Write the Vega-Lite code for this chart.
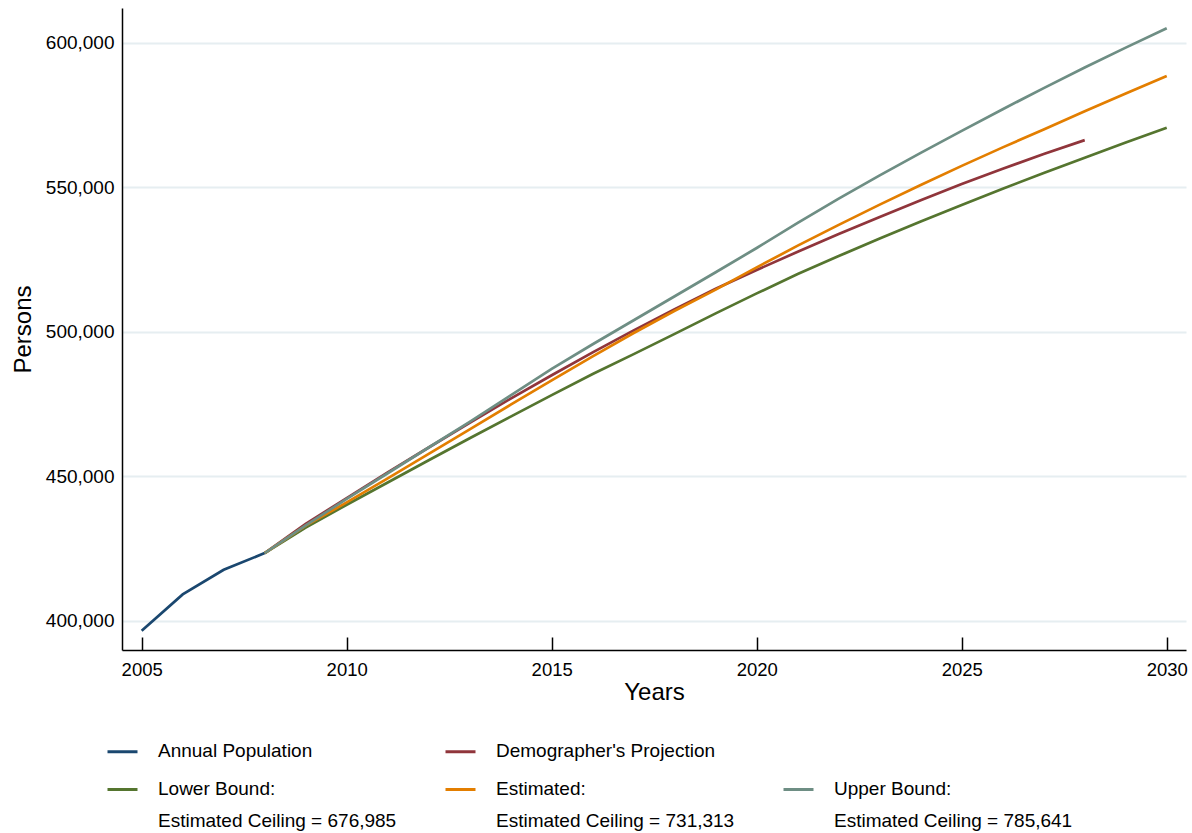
{
  "$schema": "https://vega.github.io/schema/vega-lite/v6.json",
  "width": 1064,
  "height": 642,
  "autosize": "none",
  "padding": {"left": 122, "top": 8, "right": 6, "bottom": 183},
  "background": "white",
  "config": {
    "font": "Liberation Sans",
    "view": {"stroke": null},
    "axis": {"labelFont": "Liberation Sans", "titleFont": "Liberation Sans", "labelColor": "black", "titleColor": "black", "domainColor": "black", "tickColor": "black", "titleFontWeight": "normal"}
  },
  "data": {
    "values": [
      {"year": 2005, "value": 396600, "series": "Annual Population"},
      {"year": 2006, "value": 409200, "series": "Annual Population"},
      {"year": 2007, "value": 417700, "series": "Annual Population"},
      {"year": 2008, "value": 423500, "series": "Annual Population"},

      {"year": 2008, "value": 423500, "series": "Demographer's Projection"},
      {"year": 2009, "value": 433600, "series": "Demographer's Projection"},
      {"year": 2010, "value": 442500, "series": "Demographer's Projection"},
      {"year": 2011, "value": 451400, "series": "Demographer's Projection"},
      {"year": 2012, "value": 460000, "series": "Demographer's Projection"},
      {"year": 2013, "value": 468500, "series": "Demographer's Projection"},
      {"year": 2014, "value": 476900, "series": "Demographer's Projection"},
      {"year": 2015, "value": 485000, "series": "Demographer's Projection"},
      {"year": 2016, "value": 492900, "series": "Demographer's Projection"},
      {"year": 2017, "value": 500500, "series": "Demographer's Projection"},
      {"year": 2018, "value": 507800, "series": "Demographer's Projection"},
      {"year": 2019, "value": 514900, "series": "Demographer's Projection"},
      {"year": 2020, "value": 521400, "series": "Demographer's Projection"},
      {"year": 2021, "value": 527700, "series": "Demographer's Projection"},
      {"year": 2022, "value": 533800, "series": "Demographer's Projection"},
      {"year": 2023, "value": 539700, "series": "Demographer's Projection"},
      {"year": 2024, "value": 545500, "series": "Demographer's Projection"},
      {"year": 2025, "value": 551100, "series": "Demographer's Projection"},
      {"year": 2026, "value": 556400, "series": "Demographer's Projection"},
      {"year": 2027, "value": 561500, "series": "Demographer's Projection"},
      {"year": 2028, "value": 566300, "series": "Demographer's Projection"},

      {"year": 2008, "value": 423500, "series": "Lower Bound"},
      {"year": 2009, "value": 432300, "series": "Lower Bound"},
      {"year": 2010, "value": 440200, "series": "Lower Bound"},
      {"year": 2011, "value": 447900, "series": "Lower Bound"},
      {"year": 2012, "value": 455600, "series": "Lower Bound"},
      {"year": 2013, "value": 463200, "series": "Lower Bound"},
      {"year": 2014, "value": 470700, "series": "Lower Bound"},
      {"year": 2015, "value": 478100, "series": "Lower Bound"},
      {"year": 2016, "value": 485400, "series": "Lower Bound"},
      {"year": 2017, "value": 492300, "series": "Lower Bound"},
      {"year": 2018, "value": 499300, "series": "Lower Bound"},
      {"year": 2019, "value": 506400, "series": "Lower Bound"},
      {"year": 2020, "value": 513300, "series": "Lower Bound"},
      {"year": 2021, "value": 520000, "series": "Lower Bound"},
      {"year": 2022, "value": 526200, "series": "Lower Bound"},
      {"year": 2023, "value": 532300, "series": "Lower Bound"},
      {"year": 2024, "value": 538200, "series": "Lower Bound"},
      {"year": 2025, "value": 543900, "series": "Lower Bound"},
      {"year": 2026, "value": 549500, "series": "Lower Bound"},
      {"year": 2027, "value": 554900, "series": "Lower Bound"},
      {"year": 2028, "value": 560200, "series": "Lower Bound"},
      {"year": 2029, "value": 565500, "series": "Lower Bound"},
      {"year": 2030, "value": 570600, "series": "Lower Bound"},

      {"year": 2008, "value": 423500, "series": "Estimated"},
      {"year": 2009, "value": 433000, "series": "Estimated"},
      {"year": 2010, "value": 441000, "series": "Estimated"},
      {"year": 2011, "value": 449300, "series": "Estimated"},
      {"year": 2012, "value": 457800, "series": "Estimated"},
      {"year": 2013, "value": 466300, "series": "Estimated"},
      {"year": 2014, "value": 474800, "series": "Estimated"},
      {"year": 2015, "value": 483200, "series": "Estimated"},
      {"year": 2016, "value": 491500, "series": "Estimated"},
      {"year": 2017, "value": 499600, "series": "Estimated"},
      {"year": 2018, "value": 507300, "series": "Estimated"},
      {"year": 2019, "value": 514600, "series": "Estimated"},
      {"year": 2020, "value": 522300, "series": "Estimated"},
      {"year": 2021, "value": 529800, "series": "Estimated"},
      {"year": 2022, "value": 537000, "series": "Estimated"},
      {"year": 2023, "value": 544000, "series": "Estimated"},
      {"year": 2024, "value": 550800, "series": "Estimated"},
      {"year": 2025, "value": 557400, "series": "Estimated"},
      {"year": 2026, "value": 563800, "series": "Estimated"},
      {"year": 2027, "value": 570000, "series": "Estimated"},
      {"year": 2028, "value": 576300, "series": "Estimated"},
      {"year": 2029, "value": 582400, "series": "Estimated"},
      {"year": 2030, "value": 588500, "series": "Estimated"},

      {"year": 2008, "value": 423500, "series": "Upper Bound"},
      {"year": 2009, "value": 433100, "series": "Upper Bound"},
      {"year": 2010, "value": 442200, "series": "Upper Bound"},
      {"year": 2011, "value": 451100, "series": "Upper Bound"},
      {"year": 2012, "value": 460000, "series": "Upper Bound"},
      {"year": 2013, "value": 468900, "series": "Upper Bound"},
      {"year": 2014, "value": 478000, "series": "Upper Bound"},
      {"year": 2015, "value": 487200, "series": "Upper Bound"},
      {"year": 2016, "value": 495700, "series": "Upper Bound"},
      {"year": 2017, "value": 504000, "series": "Upper Bound"},
      {"year": 2018, "value": 512300, "series": "Upper Bound"},
      {"year": 2019, "value": 520600, "series": "Upper Bound"},
      {"year": 2020, "value": 529000, "series": "Upper Bound"},
      {"year": 2021, "value": 537700, "series": "Upper Bound"},
      {"year": 2022, "value": 546100, "series": "Upper Bound"},
      {"year": 2023, "value": 554100, "series": "Upper Bound"},
      {"year": 2024, "value": 561900, "series": "Upper Bound"},
      {"year": 2025, "value": 569500, "series": "Upper Bound"},
      {"year": 2026, "value": 577000, "series": "Upper Bound"},
      {"year": 2027, "value": 584300, "series": "Upper Bound"},
      {"year": 2028, "value": 591400, "series": "Upper Bound"},
      {"year": 2029, "value": 598300, "series": "Upper Bound"},
      {"year": 2030, "value": 605000, "series": "Upper Bound"}
    ]
  },
  "mark": {"type": "line", "strokeWidth": 2.7, "clip": true},
  "encoding": {
    "x": {
      "field": "year", "type": "quantitative",
      "scale": {"domain": [2004.52, 2030.47], "nice": false, "zero": false},
      "axis": {
        "values": [2005, 2010, 2015, 2020, 2025, 2030], "format": "d",
        "grid": false, "title": "Years", "titleFontSize": 24, "titlePadding": 2,
        "labelFontSize": 18.5, "labelPadding": 23, "tickSize": -13, "tickWidth": 1.5,
        "domainWidth": 1.5, "labelFlush": false
      }
    },
    "y": {
      "field": "value", "type": "quantitative",
      "scale": {"domain": [389970, 612000], "nice": false, "zero": false},
      "axis": {
        "values": [400000, 450000, 500000, 550000, 600000], "format": ",.0f",
        "grid": true, "gridColor": "#e6eef1", "gridWidth": 2,
        "ticks": false, "title": "Persons", "titleFontSize": 24, "titlePadding": 10,
        "labelFontSize": 19, "labelPadding": 8, "domainWidth": 1.5
      }
    },
    "color": {
      "field": "series", "type": "nominal",
      "scale": {
        "domain": ["Annual Population", "Demographer's Projection", "_", "Lower Bound", "Estimated", "Upper Bound"],
        "range": ["#1a476f", "#90353b", "transparent", "#55752f", "#e37e00", "#6e8e84"]
      },
      "legend": {
        "title": null,
        "orient": "none",
        "legendX": -16,
        "legendY": 727,
        "direction": "horizontal",
        "columns": 3,
        "columnPadding": 42,
        "rowPadding": 12,
        "padding": 0,
        "symbolType": "stroke",
        "symbolSize": 900,
        "symbolStrokeWidth": 3,
        "labelOffset": 19,
        "labelFont": "Liberation Sans",
        "labelFontSize": 19,
        "labelColor": "black",
        "labelLimit": 400,
        "labelBaseline": "top",
        "labelExpr": "datum.label == 'Lower Bound' ? ['Lower Bound:', 'Estimated Ceiling = 676,985'] : datum.label == 'Estimated' ? ['Estimated:', 'Estimated Ceiling = 731,313'] : datum.label == 'Upper Bound' ? ['Upper Bound:', 'Estimated Ceiling = 785,641'] : datum.label == '_' ? '' : datum.label",
        "encode": {"labels": {"update": {"dy": {"value": -10}, "lineHeight": {"value": 32}}}}
      }
    }
  }
}
